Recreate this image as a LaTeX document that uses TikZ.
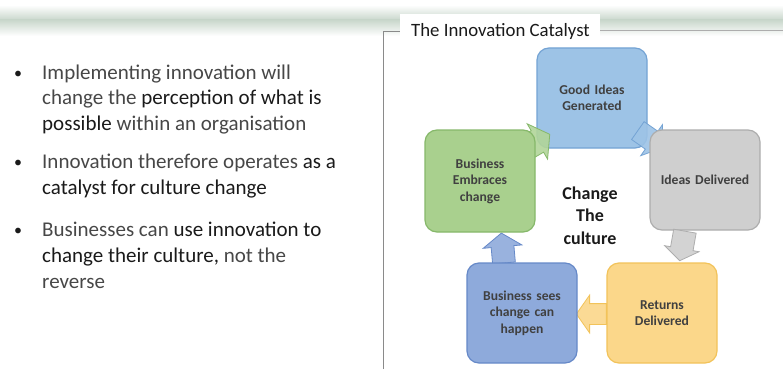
\documentclass[tikz,border=0pt]{standalone}
\usepackage{fontspec}
\setmainfont{Carlito}
\usetikzlibrary{shapes.arrows,calc}
\definecolor{txt}{HTML}{474747}
\definecolor{txtb}{HTML}{1A1A1A}
\definecolor{band}{HTML}{C9D7CC}
\definecolor{framec}{HTML}{8A8A8A}
\definecolor{blueA}{HTML}{9DC3E6}\definecolor{blueAd}{HTML}{74A3D4}
\definecolor{grayA}{HTML}{CFCFCF}\definecolor{grayAd}{HTML}{ADADAD}
\definecolor{greenA}{HTML}{A9D08E}\definecolor{greenAd}{HTML}{86B86A}
\definecolor{blueB}{HTML}{8EAADB}\definecolor{blueBd}{HTML}{6689C8}
\definecolor{yelA}{HTML}{FBD78A}\definecolor{yelAd}{HTML}{F2C35A}
\tikzset{
  stepbox/.style={draw, line width=1.2pt, rounded corners=12pt,
    minimum width=110pt, minimum height=100pt, inner sep=4pt,
    align=center, text width=102pt, font=\fontsize{13.6}{16.5}\selectfont\bfseries, text=txt!90!black},
  % #1 = half the shaft width, #2 = how far the head reaches past the shaft
  blockarrow/.style 2 args={single arrow, draw, line width=0.8pt,
    inner xsep=0pt, inner ysep=#1, single arrow head extend=#2,
    minimum height=30pt, single arrow tip angle=110, fill opacity=0.9},
  bline/.style={anchor=base west, inner sep=0pt, font=\fontsize{21}{26}\selectfont, text=txt},
  dot/.style={anchor=center, inner sep=0pt, font=\fontsize{16}{16}\selectfont, text=txtb}
}
\newcommand{\hl}[1]{\textcolor{txtb}{#1}}
\begin{document}
\begin{tikzpicture}[x=1pt,y=-1pt]
\useasboundingbox (0,0) rectangle (783,369);
\fill[white] (0,0) rectangle (783,369);
% soft brush band across the top
\shade[top color=white, bottom color=band] (0,5) rectangle (783,20);
\shade[top color=band, bottom color=white] (0,20) rectangle (783,36);
% frame around the diagram panel
\draw[framec, line width=0.9pt] (383,369) -- (383,31) -- (402,31);
\draw[framec!70, line width=0.9pt] (598,30) -- (783,30);
\fill[white] (400,14) rectangle (600,42);
\node[anchor=base west, inner sep=0pt, text=txtb,
  font=\fontsize{18.8}{20}\selectfont] (title) at (411,37) {The Innovation Catalyst};
% bullet points
\node[dot] (b1) at (18,75) {•};
\node[bline] (l11) at (42,79) {Implementing innovation will};
\node[bline] (l12) at (42,104.5) {change the \hl{perception of what is}};
\node[bline] (l13) at (42,130) {\hl{possible} within an organisation};
\node[dot] (b2) at (18,164) {•};
\node[bline] (l21) at (42,168) {Innovation therefore operates \hl{as a}};
\node[bline] (l22) at (42,194) {\hl{catalyst for culture change}};
\node[dot] (b3) at (18,232) {•};
\node[bline] (l31) at (42,236) {Businesses can \hl{use innovation to}};
\node[bline] (l32) at (42,262) {\hl{change their culture,} not the};
\node[bline] (l33) at (42,288) {reverse};
% the cycle, with block arrows between the steps
\node[stepbox, fill=blueA, draw=blueAd] (good) at (592,98) {Good Ideas\\Generated};
\node[blockarrow={12pt}{8pt}, fill=greenA!90, draw=greenAd, rotate=30] (a1) at (533,144) {};
\node[blockarrow={10.5pt}{8pt}, fill=blueA, draw=blueAd, rotate=-35] (a2) at (647,137) {};
\node[stepbox, fill=grayA, draw=grayAd] (deliv) at (705,180) {Ideas Delivered};
\node[blockarrow={11pt}{6pt}, fill=grayA, draw=grayAd, rotate=-100] (a3) at (683,242) {};
\node[blockarrow={10pt}{8.5pt}, fill=yelA, draw=yelAd, rotate=180] (a4) at (595,314) {};
\node[stepbox, fill=yelA, draw=yelAd] (ret) at (662,313) {Returns\\Delivered};
\node[blockarrow={11pt}{8pt}, fill=blueB, draw=blueBd, rotate=95] (a5) at (503,252) {};
\node[stepbox, fill=blueB, draw=blueBd] (sees) at (522,313) {Business sees\\change can\\happen};
\node[stepbox, fill=greenA, draw=greenAd, minimum height=102pt] (emb) at (480,181) {Business\\Embraces\\change};
\node[align=center, font=\fontsize{18}{22.5}\selectfont\bfseries, text=txtb] (center) at (590,215.5) {Change\\The\\culture};
\end{tikzpicture}
\end{document}
